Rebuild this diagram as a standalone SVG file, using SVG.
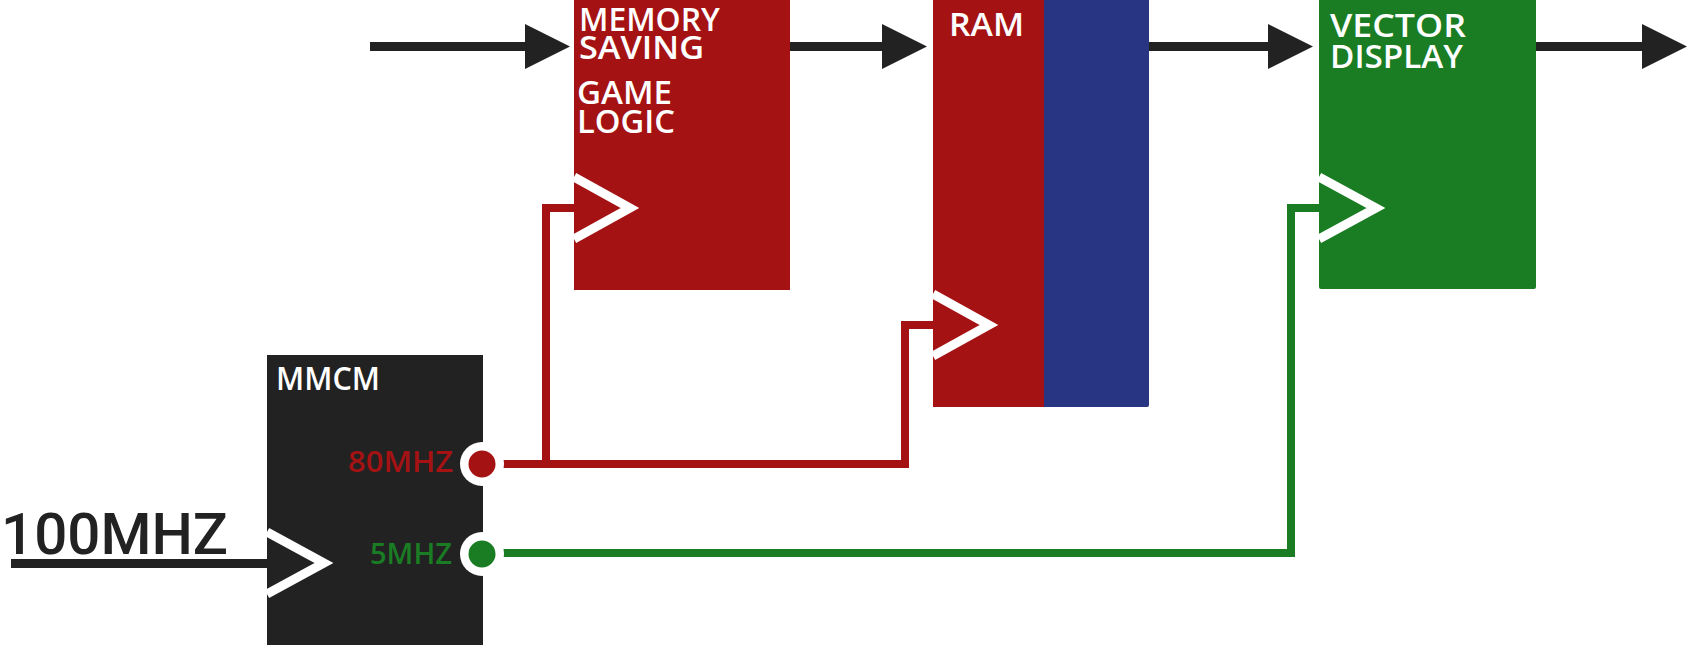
<svg xmlns="http://www.w3.org/2000/svg" width="1687" height="645" viewBox="0 0 1687 645">
<defs>
<style>
.lbl{font-family:"Open Sans","Liberation Sans",sans-serif;font-weight:600;font-size:32px;fill:#ffffff}
.clk{fill:none;stroke:#ffffff;stroke-width:9;stroke-linejoin:miter;stroke-miterlimit:10}
.bus{stroke:#222222;stroke-width:9;fill:none}
.head{fill:#222222}
.wire{fill:none;stroke-width:8;stroke-linejoin:miter}
.port{font-family:"Open Sans","Liberation Sans",sans-serif;font-weight:600;font-size:28px;text-anchor:end}
</style>
</defs>
<rect width="1687" height="645" fill="#ffffff"/>
<g id="connectors">
<line class="bus" x1="370" y1="46.5" x2="527" y2="46.5"/>
<polygon class="head" points="525,24 570,46.5 525,69"/>
<line class="bus" x1="790" y1="46.5" x2="884" y2="46.5"/>
<polygon class="head" points="882,24 927,46.5 882,69"/>
<line class="bus" x1="1149" y1="46.5" x2="1270" y2="46.5"/>
<polygon class="head" points="1268,24 1313,46.5 1268,69"/>
<line class="bus" x1="1536" y1="46.5" x2="1644" y2="46.5"/>
<polygon class="head" points="1642,24 1687,46.5 1642,69"/>
<line class="bus" x1="11" y1="563.5" x2="268" y2="563.5"/>
<polyline class="wire" stroke="#a51214" points="482,464 546,464 546,208 575,208"/>
<polyline class="wire" stroke="#a51214" points="546,464 905,464 905,325 934,325"/>
<polyline class="wire" stroke="#1a7d24" points="482,553 1291,553 1291,208 1320,208"/>
</g>
<g id="input-label">
<text x="1" y="554" font-family="Roboto,'DejaVu Sans',sans-serif" font-weight="500" font-size="58" fill="#222222" textLength="227" lengthAdjust="spacingAndGlyphs">100MHZ</text>
</g>
<g id="mmcm">
<rect x="267" y="355" width="216" height="300" fill="#222222"/>
<text class="lbl" x="276" y="390" font-size="31" textLength="104" lengthAdjust="spacingAndGlyphs">MMCM</text>
<polyline class="clk" points="267,532 324,563 267,594"/>
<text class="port" x="453" y="472" fill="#a51214" textLength="105" lengthAdjust="spacingAndGlyphs">80MHZ</text>
<text class="port" x="452" y="564" fill="#1a7d24" textLength="82" lengthAdjust="spacingAndGlyphs">5MHZ</text>
<circle cx="482" cy="464" r="22" fill="#ffffff"/>
<circle cx="482" cy="464" r="13.5" fill="#a51214"/>
<circle cx="482" cy="554" r="22" fill="#ffffff"/>
<circle cx="482" cy="554" r="13.5" fill="#1a7d24"/>
</g>
<g id="game-logic">
<rect x="574" y="-5" width="216" height="295" fill="#a51214"/>
<text class="lbl" x="579" y="31" textLength="141" lengthAdjust="spacingAndGlyphs">MEMORY</text>
<text class="lbl" x="579" y="59" textLength="125" lengthAdjust="spacingAndGlyphs">SAVING</text>
<text class="lbl" x="577" y="104" textLength="95" lengthAdjust="spacingAndGlyphs">GAME</text>
<text class="lbl" x="577" y="133" textLength="98" lengthAdjust="spacingAndGlyphs">LOGIC</text>
<polyline class="clk" points="574,177 630,208 574,239"/>
</g>
<g id="ram">
<rect x="1040" y="-5" width="109" height="412" rx="2" fill="#283583"/>
<rect x="933" y="-5" width="111" height="412" fill="#a51214"/>
<text class="lbl" x="949" y="36" textLength="75" lengthAdjust="spacingAndGlyphs">RAM</text>
<polyline class="clk" points="933,294 989,325 933,356"/>
</g>
<g id="vector-display">
<rect x="1319" y="-5" width="217" height="294" rx="2" fill="#1a7d24"/>
<text class="lbl" x="1330" y="37" textLength="136" lengthAdjust="spacingAndGlyphs">VECTOR</text>
<text class="lbl" x="1330" y="68" textLength="133" lengthAdjust="spacingAndGlyphs">DISPLAY</text>
<polyline class="clk" points="1319,177 1376,208 1319,239"/>
</g>
</svg>
